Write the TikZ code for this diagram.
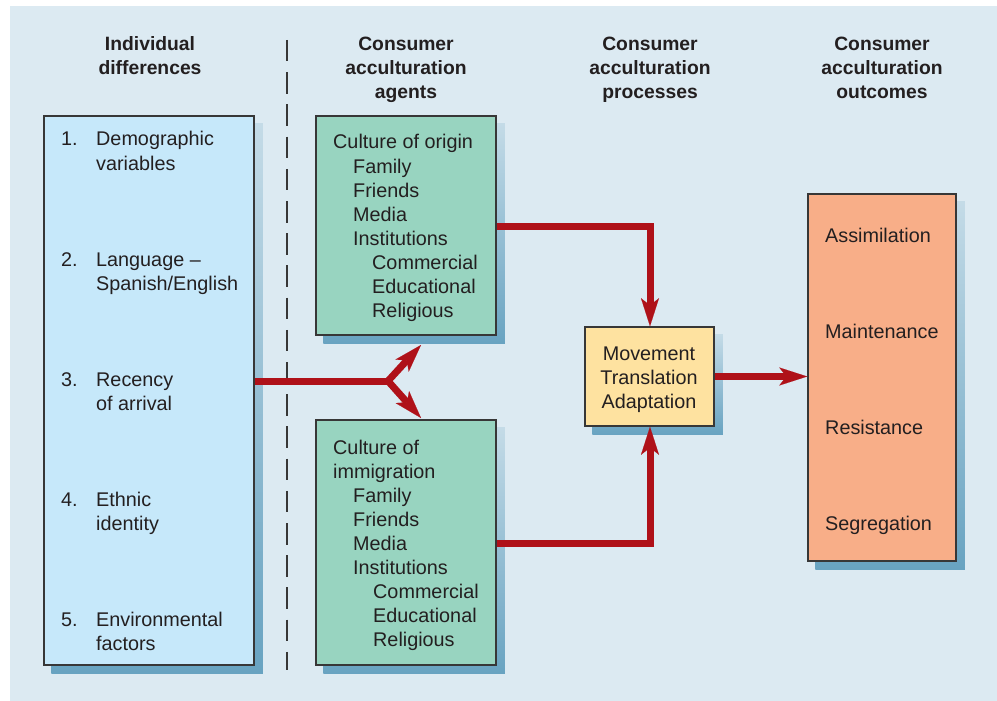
\documentclass[tikz,border=0pt]{standalone}
\usepackage{fontspec}
\setmainfont{Liberation Sans}
\usetikzlibrary{arrows.meta,backgrounds}
\definecolor{panel}{RGB}{220,234,242}
\definecolor{lblue}{RGB}{198,232,250}
\definecolor{lgreen}{RGB}{152,212,192}
\definecolor{lyellow}{RGB}{254,226,160}
\definecolor{lorange}{RGB}{248,174,136}
\definecolor{bord}{RGB}{55,55,55}
\definecolor{arrred}{RGB}{175,17,25}
\definecolor{shtop}{RGB}{196,219,231}
\definecolor{shbot}{RGB}{104,163,193}
\definecolor{txtc}{RGB}{35,31,32}
\tikzset{
  box/.style={draw=bord, line width=1.5pt, inner sep=0pt, rectangle},
  txt/.style={anchor=base west, inner sep=0pt, text=txtc, font=\fontsize{19.8}{24}\selectfont},
  ctxt/.style={anchor=base, inner sep=0pt, text=txtc, font=\fontsize{19.8}{24}\selectfont},
  head/.style={anchor=base, inner sep=0pt, text=txtc, font=\fontsize{19.3}{24}\selectfont\bfseries},
  redline/.style={draw=arrred, line width=7pt},
  redarrow/.style={draw=arrred, line width=7pt, -{Stealth[length=28pt,width=18pt,inset=7pt,line width=0.1pt]}},
  shadowbox/.style={top color=shtop, bottom color=shbot},
}
\begin{document}
\begin{tikzpicture}[x=1pt,y=-1pt]
\useasboundingbox (0,0) rectangle (997,701);

% boxes
\node[box, fill=lblue, minimum width=210pt, minimum height=549pt] (L) at (149,390.5) {};
\node[box, fill=lgreen, minimum width=180pt, minimum height=219pt] (G1) at (406,225.5) {};
\node[box, fill=lgreen, minimum width=180pt, minimum height=245pt] (G2) at (406,542.5) {};
\node[box, fill=lyellow, minimum width=129pt, minimum height=99pt] (Y) at (649.5,376.5) {};
\node[box, fill=lorange, minimum width=148pt, minimum height=367pt] (O) at (882,377.5) {};

\begin{scope}[on background layer]
  \fill[panel] (10,6) rectangle (997,701);
  \foreach \b in {L,G1,G2,Y,O}
    \shade[shadowbox] ([shift={(8,8)}]\b.north west) rectangle ([shift={(8,8)}]\b.south east);
\end{scope}

% dashed divider
\coordinate (dtop) at (287,40);
\coordinate (dbot) at (287,670);
\draw[bord, line width=1.3pt, dash pattern=on 21.5pt off 10.7pt] (dtop) -- (dbot);

% headers
\node[head] (h1a) at (150,51) {Individual};
\node[head] (h1b) at (150,75) {differences};
\node[head] (h2a) at (406,51) {Consumer};
\node[head] (h2b) at (406,75) {acculturation};
\node[head] (h2c) at (406,99) {agents};
\node[head] (h3a) at (650,51) {Consumer};
\node[head] (h3b) at (650,75) {acculturation};
\node[head] (h3c) at (650,99) {processes};
\node[head] (h4a) at (882,51) {Consumer};
\node[head] (h4b) at (882,75) {acculturation};
\node[head] (h4c) at (882,99) {outcomes};

% left box
\node[txt] (n1) at (61,146) {1.};
\node[txt] (t1a) at (96,146) {Demographic};
\node[txt] (t1b) at (96,170) {variables};
\node[txt] (n2) at (61,266) {2.};
\node[txt] (t2a) at (96,266) {Language –};
\node[txt] (t2b) at (96,290) {Spanish/English};
\node[txt] (n3) at (61,386) {3.};
\node[txt] (t3a) at (96,386) {Recency};
\node[txt] (t3b) at (96,410) {of arrival};
\node[txt] (n4) at (61,506) {4.};
\node[txt] (t4a) at (96,506) {Ethnic};
\node[txt] (t4b) at (96,530) {identity};
\node[txt] (n5) at (61,626) {5.};
\node[txt] (t5a) at (96,626) {Environmental};
\node[txt] (t5b) at (96,650) {factors};

% green top
\node[txt] (ga1) at (333,149) {Culture of origin};
\node[txt] (ga2) at (353,173) {Family};
\node[txt] (ga3) at (353,197) {Friends};
\node[txt] (ga4) at (353,221) {Media};
\node[txt] (ga5) at (353,245) {Institutions};
\node[txt] (ga6) at (372,269) {Commercial};
\node[txt] (ga7) at (372,293) {Educational};
\node[txt] (ga8) at (372,317) {Religious};

% green bottom
\node[txt] (gb1) at (333,454) {Culture of};
\node[txt] (gb2) at (333,478) {immigration};
\node[txt] (gb3) at (353,502) {Family};
\node[txt] (gb4) at (353,526) {Friends};
\node[txt] (gb5) at (353,550) {Media};
\node[txt] (gb6) at (353,574) {Institutions};
\node[txt] (gb7) at (373,598) {Commercial};
\node[txt] (gb8) at (373,622) {Educational};
\node[txt] (gb9) at (373,646) {Religious};

% yellow
\node[ctxt] (y1) at (649,360) {Movement};
\node[ctxt] (y2) at (649,384) {Translation};
\node[ctxt] (y3) at (649,408) {Adaptation};

% orange
\node[txt] (o1) at (825,242) {Assimilation};
\node[txt] (o2) at (825,338) {Maintenance};
\node[txt] (o3) at (825,434) {Resistance};
\node[txt] (o4) at (825,530) {Segregation};

% red connectors
\coordinate (split) at (388,381);
\coordinate (upt) at (421,345);
\coordinate (dnt) at (421,418);
\draw[redline] (L.east |- split) -- (split);
\draw[redarrow] (split) -- (upt);
\draw[redarrow] (split) -- (dnt);

\coordinate (c1) at (650,226);
\draw[redarrow, line join=miter] (G1.east |- c1) -- (c1) -- (Y.north -| c1);
\coordinate (c2) at (650,543);
\draw[redarrow, line join=miter] (G2.east |- c2) -- (c2) -- (Y.south -| c2);

\draw[redarrow] (Y.east) -- (Y.east -| O.west);
\end{tikzpicture}
\end{document}
